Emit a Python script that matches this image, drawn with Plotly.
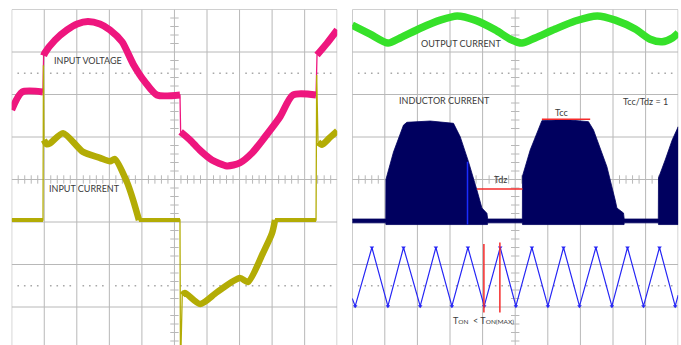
import plotly.graph_objects as go

# All coordinates are in scope divisions: x 0..10, y -4..4 (centre = 0)

# ---------------- left scope: input voltage / input current ----------------
vin_x = [0.00, 0.32, 0.96, None, 0.98, 1.02, 1.33, 1.70, 2.01, 2.34, 2.71, 3.02, 3.39, 3.73,
         4.10, 4.46, 5.17, None, 5.19, 5.48, 5.78, 6.15, 6.61, 7.01, 7.38, 7.78, 8.24, 8.64,
         9.35, None, 9.38, 9.69, 10.0]
vin_y = [1.64, 2.06, 2.06, None, 2.91, 2.98, 3.28, 3.52, 3.66, 3.72, 3.66, 3.52, 3.24, 2.72,
         2.29, 1.99, 1.99, None, 1.12, 0.93, 0.69, 0.46, 0.32, 0.39, 0.62, 1.00, 1.47, 1.99,
         1.99, None, 2.93, 3.21, 3.52]

iin_x = [0.00, 0.962, None, 0.975, None, 0.99, 1.075, 1.177, 1.576, 2.19, 2.71, 3.02, 3.17,
         3.54, 3.73, 3.91, None, 3.91, 5.17, None, 5.185, None, 5.24, 5.32, 5.79, 6.31, 7.01,
         7.26, 7.72, 8.00, 8.09, None, 8.09, 9.35, None, 9.37, None, 9.41, 9.53, 9.78, 10.0]
iin_y = [-0.953, -0.953, None, 2.69, None, 0.93, 0.83, 0.85, 1.09, 0.65, 0.51, 0.43, 0.48,
         -0.06, -0.48, -0.953, None, -0.953, -0.953, None, -4.5, None, -2.72, -2.67, -2.93,
         -2.65, -2.32, -2.41, -1.73, -1.26, -0.953, None, -0.953, -0.953, None, 2.46, None,
         0.88, 0.82, 0.99, 1.14]

# ---------------- right scope: output current / inductor current / timing ----------------
iout_x = [0.00, 0.55, 1.10, 1.47, 2.09, 2.70, 3.22, 3.77, 4.39, 4.85, 5.21, 5.61, 6.23, 6.84,
          7.52, 8.07, 8.68, 9.14, 9.51, 9.82, 10.0]
iout_y = [3.63, 3.42, 3.21, 3.33, 3.56, 3.75, 3.85, 3.75, 3.52, 3.30, 3.21, 3.33, 3.54, 3.73,
          3.85, 3.75, 3.54, 3.30, 3.24, 3.33, 3.45]

ind_top_x = [0.00, 1.03, 1.034, 1.267, 1.574, 1.678, 2.393, 3.107, 3.313, 3.567, 3.825, 3.979,
             4.132, 4.156, 5.22, 5.224, 5.46, 5.767, 5.819, 6.534, 7.248, 7.402, 7.607, 7.813,
             8.067, 8.12, 8.322, 8.344, 9.39, 9.396, 9.601, 9.816, 10.0]
ind_top_y = [-0.93, -0.93, 0.00, 0.647, 1.28, 1.346, 1.376, 1.322, 1.007, 0.419, -0.247, -0.671,
             -0.795, -0.93, -0.93, 0.082, 0.694, 1.322, 1.384, 1.41, 1.36, 1.165, 0.741, 0.301,
             -0.482, -0.671, -0.788, -0.93, -0.93, 0.035, 0.459, 0.929, 1.242]
ind_bot_x = [0.00, 1.03, 1.034, 4.15, 4.156, 5.22, 5.224, 8.34, 8.344, 9.39, 9.396, 10.0]
ind_bot_y = [-1.02, -1.02, -1.06, -1.06, -1.02, -1.02, -1.06, -1.06, -1.02, -1.02, -1.06, -1.06]

marker_x = [3.537, 3.537]
marker_y = [0.42, -1.06]

tri_x = [0.0, 0.092, 0.604, 1.095, 1.574, 2.086, 2.567, 3.058, 3.549, 4.049, 4.540, 5.021,
         5.512, 6.003, 6.482, 6.972, 7.475, 7.966, 8.445, 8.936, 9.426, 9.908, 10.0]
tri_y = [-2.80, -2.98, -1.60, -2.98, -1.60, -2.98, -1.60, -2.98, -1.60, -2.98, -1.60, -2.98,
         -1.60, -2.98, -1.60, -2.98, -1.60, -2.98, -1.60, -2.98, -1.60, -2.98, -2.72]

tdz_x, tdz_y = [3.825, 5.224], [-0.224, -0.224]
tcc_x, tcc_y = [5.819, 7.30], [1.416, 1.416]
ton_x, ton_y = [4.04, 4.04], [-1.52, -3.13]
tonmax_x, tonmax_y = [4.53, 4.53], [-1.48, -3.13]

# ---------------- styling ----------------
GRID = "#b8b8b8"
BORDER = "#a2a2a2"
DOT = "#a8a8a8"
TXT = "#3a3a3a"
FONT = "Lato"
MAGENTA = "#ee167e"
OLIVE = "#b3ac05"
GREEN = "#36e12a"
NAVY = "#00005f"
BLUE = "#2626f5"
RED = "#f52a2a"

fig = go.Figure()


def scope_grid(xa, ya):
    # graticule decorations drawn as marker traces: centre-line ticks and dotted levels
    hx = [k * 0.2 for k in range(51) if k % 5]
    vy = [k * 0.2 for k in range(-20, 21) if k % 5]
    fig.add_trace(go.Scatter(x=hx, y=[0] * len(hx), mode="markers", xaxis=xa, yaxis=ya,
                             marker=dict(symbol="line-ns", size=6, line=dict(width=1, color=GRID)),
                             hoverinfo="skip", showlegend=False))
    fig.add_trace(go.Scatter(x=[5] * len(vy), y=vy, mode="markers", xaxis=xa, yaxis=ya,
                             marker=dict(symbol="line-ew", size=6, line=dict(width=1, color=GRID)),
                             hoverinfo="skip", showlegend=False))
    for lvl in (2.5, -2.5):
        fig.add_trace(go.Scatter(x=hx, y=[lvl] * len(hx), mode="markers", xaxis=xa, yaxis=ya,
                                 marker=dict(symbol="square", size=1.6, color=DOT),
                                 hoverinfo="skip", showlegend=False))


def band(xs, ys, color, w_active, w_flat, xa, ya):
    # thin full path (keeps the fast edges and spikes) + thick noisy band per segment
    fig.add_trace(go.Scatter(x=xs, y=ys, mode="lines", connectgaps=True, xaxis=xa, yaxis=ya,
                             line=dict(color=color, width=1.3), hoverinfo="skip", showlegend=False))
    seg_x, seg_y = [], []
    for x, y in list(zip(xs, ys)) + [(None, None)]:
        if x is None:
            if len(seg_x) > 1:
                flat = len(set(seg_y)) == 1
                fig.add_trace(go.Scatter(x=seg_x, y=seg_y, mode="lines", xaxis=xa, yaxis=ya,
                                         line=dict(color=color, width=w_flat if flat else w_active,
                                                   shape="linear" if flat else "spline",
                                                   smoothing=0.7),
                                         hoverinfo="skip", showlegend=False))
            seg_x, seg_y = [], []
        else:
            seg_x.append(x)
            seg_y.append(y)


scope_grid("x", "y")
scope_grid("x2", "y2")

# left scope traces
band(vin_x, vin_y, MAGENTA, 7, 6, "x", "y")
band(iin_x, iin_y, OLIVE, 6.5, 4, "x", "y")

# right scope traces
band(iout_x, iout_y, GREEN, 7.5, 7.5, "x2", "y2")
fig.add_trace(go.Scatter(x=ind_top_x + ind_bot_x[::-1], y=ind_top_y + ind_bot_y[::-1],
                         mode="lines", fill="toself", fillcolor=NAVY, xaxis="x2", yaxis="y2",
                         line=dict(color=NAVY, width=0.8), hoverinfo="skip", showlegend=False))
fig.add_trace(go.Scatter(x=marker_x, y=marker_y, mode="lines", xaxis="x2", yaxis="y2",
                         line=dict(color="#1a2cff", width=1.5), hoverinfo="skip", showlegend=False))
fig.add_trace(go.Scatter(x=tri_x, y=tri_y, mode="lines", xaxis="x2", yaxis="y2",
                         line=dict(color=BLUE, width=1.2), hoverinfo="skip", showlegend=False))
fig.add_trace(go.Scatter(x=tri_x[1:-1], y=tri_y[1:-1], mode="markers", xaxis="x2", yaxis="y2",
                         marker=dict(symbol="triangle-down", size=4, color=BLUE),
                         hoverinfo="skip", showlegend=False))
for xs, ys in ((tdz_x, tdz_y), (tcc_x, tcc_y), (ton_x, ton_y), (tonmax_x, tonmax_y)):
    fig.add_trace(go.Scatter(x=xs, y=ys, mode="lines", xaxis="x2", yaxis="y2",
                             line=dict(color=RED, width=1.5), hoverinfo="skip", showlegend=False))

# graticule lines
shapes = []
for xr, yr in (("x", "y"), ("x2", "y2")):
    for i in range(11):
        shapes.append(dict(type="line", xref=xr, yref=yr, x0=i, x1=i, y0=-4.5, y1=4,
                           layer="below",
                           line=dict(color=BORDER if i in (0, 10) else GRID, width=1)))
    for j in range(-4, 5):
        shapes.append(dict(type="line", xref=xr, yref=yr, x0=0, x1=10, y0=j, y1=j,
                           layer="below",
                           line=dict(color=BORDER if j == 4 else GRID, width=1)))


def label(text, x, y, xr, yr, size=9):
    return dict(text=text, x=x, y=y, xref=xr, yref=yr, showarrow=False,
                font=dict(family=FONT, size=size, color=TXT), xanchor="center", yanchor="middle")


annotations = [
    label("INPUT VOLTAGE", 2.34, 2.79, "x", "y"),
    label("INPUT CURRENT", 2.24, -0.20, "x", "y"),
    label("OUTPUT CURRENT", 3.34, 3.21, "x2", "y2"),
    label("INDUCTOR CURRENT", 2.82, 1.85, "x2", "y2"),
    label("Tcc/Tdz = 1", 8.99, 1.83, "x2", "y2"),
    label("Tcc", 6.43, 1.57, "x2", "y2"),
    label("Tdz", 4.54, -0.01, "x2", "y2"),
    label("T<span style='font-size:6.5px'>ON</span>  &lt; T<span style='font-size:6.5px'>ON(MAX)</span>",
          4.03, -3.32, "x2", "y2"),
]

ydom = [0, 1 - 9.5 / 345]
axis_common = dict(visible=False, fixedrange=True)
fig.update_layout(
    width=681, height=345,
    margin=dict(l=0, r=0, t=0, b=0),
    paper_bgcolor="white", plot_bgcolor="white",
    showlegend=False,
    shapes=shapes,
    annotations=annotations,
    xaxis=dict(domain=[11.7 / 681, 337.2 / 681], range=[0, 10], **axis_common),
    yaxis=dict(domain=ydom, range=[-3.894, 4], **axis_common),
    xaxis2=dict(domain=[352.2 / 681, 678.2 / 681], range=[0, 10], anchor="y2", **axis_common),
    yaxis2=dict(domain=ydom, range=[-3.894, 4], anchor="x2", **axis_common),
)

fig.write_html("out.html")
